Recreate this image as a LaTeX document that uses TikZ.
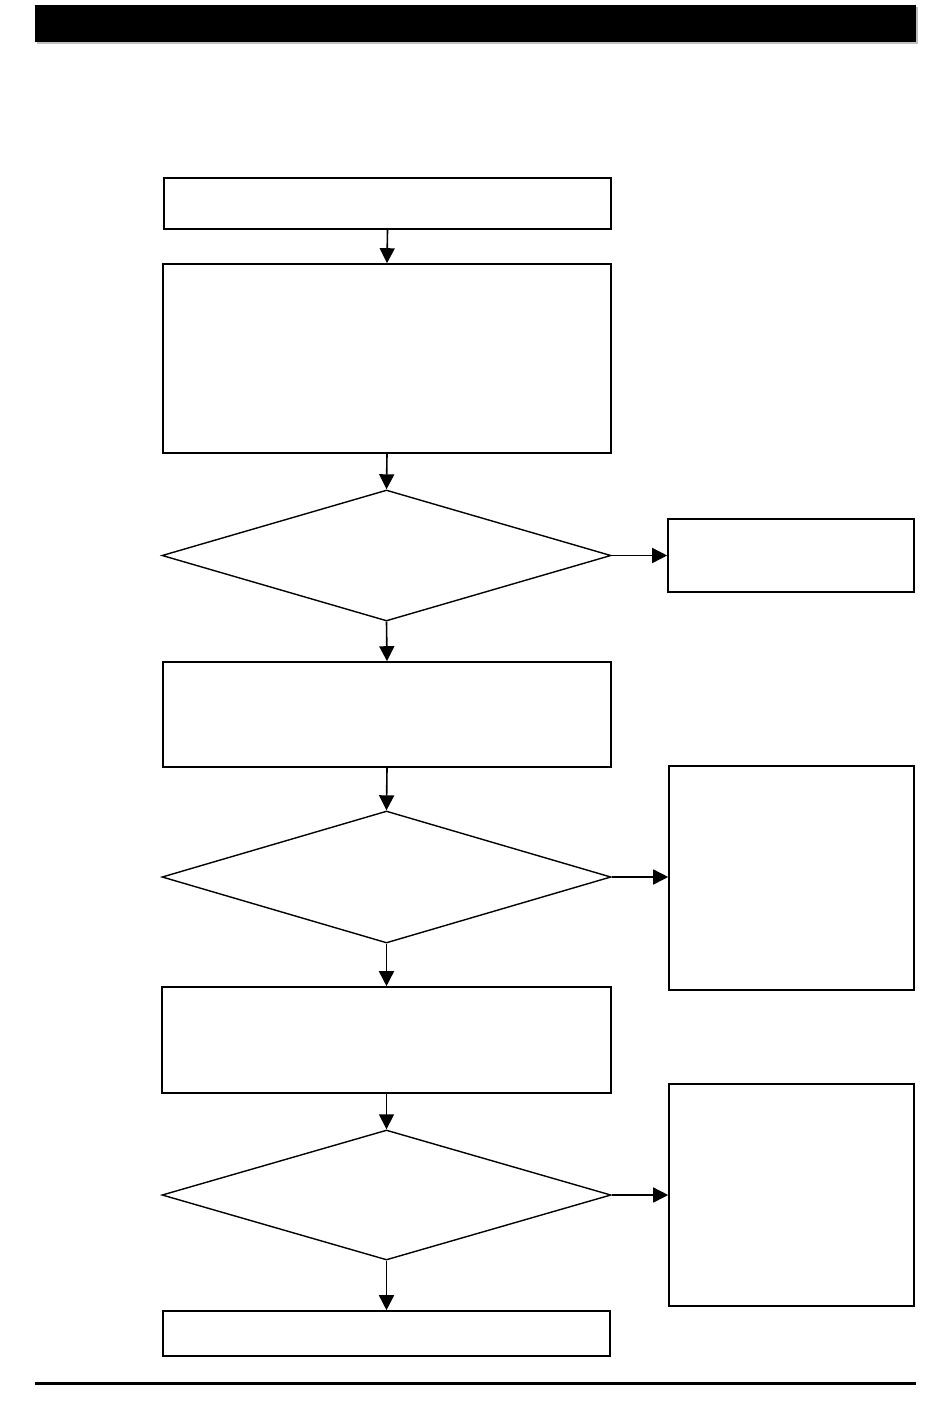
\documentclass[tikz,border=0pt]{standalone}
\usetikzlibrary{shapes.geometric,arrows.meta}
\begin{document}
\begin{tikzpicture}[x=1pt,y=-1pt,
  boxnode/.style={draw=black,line width=1.6pt,rectangle,inner sep=0pt,fill=white},
  decnode/.style={draw=black,line width=1.4pt,diamond,inner sep=0pt,fill=white},
  flow/.style={line width=1.6pt,-{Triangle[length=15pt,width=15pt]}}]
\useasboundingbox (0,0) rectangle (950,1413);
% header bar and footer rule
\fill[black!25] (37,7) rectangle (918,44);
\node[fill=black,inner sep=0pt,minimum width=881pt,minimum height=37pt] (hdr) at (475.5,23.5) {};
\draw[line width=3pt] (35,1383) coordinate (fl) -- (916,1383) coordinate (fr);
% main column
\node[boxnode,minimum width=447pt,minimum height=51pt] (b1) at (387.5,203.5) {};
\node[boxnode,minimum width=448pt,minimum height=189pt] (b2) at (387,358.5) {};
\node[decnode,minimum width=449pt,minimum height=131pt] (d1) at (386.5,555.5) {};
\node[boxnode,minimum width=448pt,minimum height=105pt] (b3) at (387,714.5) {};
\node[decnode,minimum width=449pt,minimum height=132pt] (d2) at (386.5,877) {};
\node[boxnode,minimum width=449pt,minimum height=106pt] (b4) at (386.5,1040) {};
\node[decnode,minimum width=449pt,minimum height=130pt] (d3) at (386.5,1195) {};
\node[boxnode,minimum width=447pt,minimum height=45pt] (b5) at (386.5,1333.5) {};
% right column
\node[boxnode,minimum width=246pt,minimum height=73pt] (r1) at (791,555.5) {};
\node[boxnode,minimum width=245pt,minimum height=224pt] (r2) at (791.5,878) {};
\node[boxnode,minimum width=245pt,minimum height=222pt] (r3) at (791.5,1195) {};
% connectors
\draw[flow] (b1.south) -- (b2.north);
\draw[flow] (b2.south) -- (d1.north);
\draw[flow] (d1.south) -- (b3.north);
\draw[flow] (b3.south) -- (d2.north);
\draw[flow] (d2.south) -- (b4.north);
\draw[flow] (b4.south) -- (d3.north);
\draw[flow] (d3.south) -- (b5.north);
\draw[flow] (d1.east) -- (r1.west);
\draw[flow] (d2.east) -- (d2.east -| r2.west);
\draw[flow] (d3.east) -- (d3.east -| r3.west);
\end{tikzpicture}
\end{document}
